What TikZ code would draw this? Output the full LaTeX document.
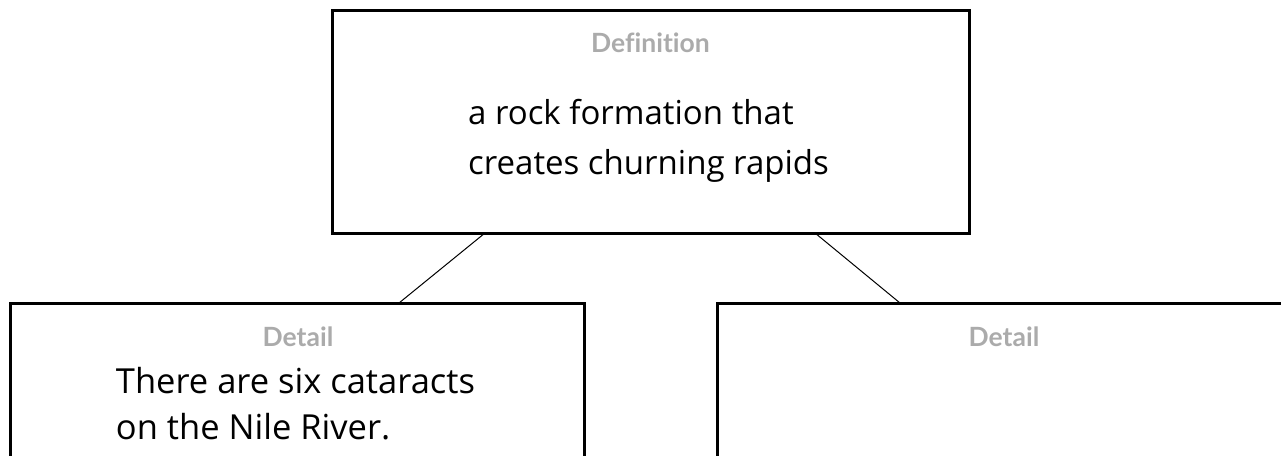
\documentclass[tikz,border=0pt]{standalone}
\usepackage{fontspec}
\setmainfont{Open Sans}
\newfontfamily\labelfont[Ligatures=NoCommon]{Lato}
\usepackage{tikz}
\usetikzlibrary{positioning}
\definecolor{lblgray}{HTML}{ABABAB}
\tikzset{
  card/.style={rectangle, draw, line width=3pt, outer sep=0pt,
               minimum width=574pt, minimum height=300pt},
  defcard/.style={card, minimum width=637pt, minimum height=223pt},
  head/.style={font=\labelfont\bfseries\fontsize{26.5}{30}\selectfont,
               text=lblgray, inner sep=0pt},
  hand/.style={align=left, inner sep=0pt,
               font=\fontsize{34.5}{46}\selectfont},
  link/.style={line width=1pt},
}

\begin{document}
\begin{tikzpicture}[x=1pt, y=1pt]
  \clip (0,0) rectangle (1281,-455);

  % definition box on top
  \node[defcard] (def) at (650.5,-121.5) {};
  \node[head] (deflbl) at ([yshift=-33pt]def.north) {Definition};
  \node[hand, font=\fontsize{33}{50}\selectfont] (deftxt) at ([xshift=-2pt, yshift=-131pt]def.north)
    {a rock formation that\\creates churning rapids};

  % the two detail boxes
  \node[card] (detA) at (297,-453) {};
  \node[card] (detB) at (1004,-453) {};
  \node[head] (detAlbl) at ([xshift=1pt, yshift=-34pt]detA.north) {Detail};
  \node[head] (detBlbl) at ([yshift=-34pt]detB.north) {Detail};
  \node[hand] (detAtxt) at ([xshift=-1.5pt, yshift=-101pt]detA.north)
    {There are six cataracts\\on the Nile River.};

  % connectors
  \draw[link] ([xshift=-165.5pt]def.south) -- ([xshift=102pt]detA.north);
  \draw[link] ([xshift=164.5pt]def.south) -- ([xshift=-104pt]detB.north);
\end{tikzpicture}
\end{document}
